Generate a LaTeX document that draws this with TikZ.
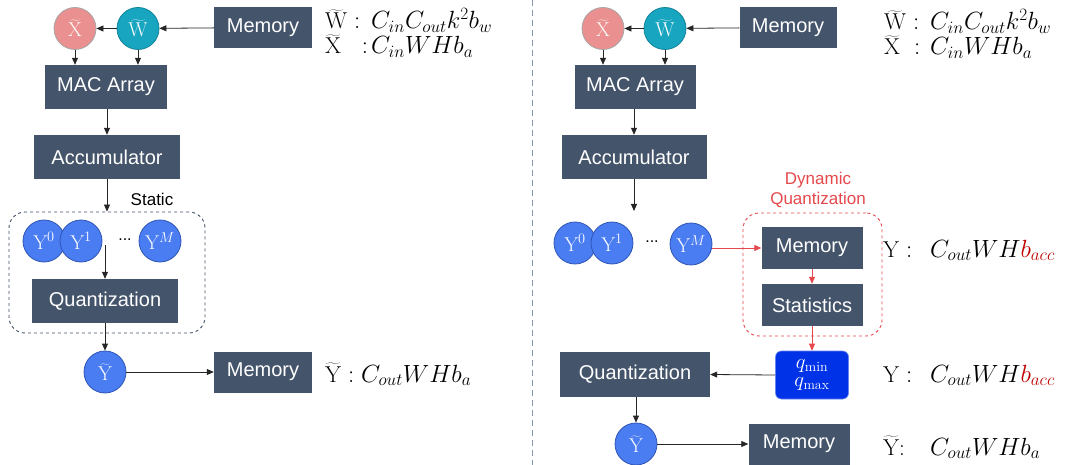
\documentclass[tikz,border=0pt]{standalone}
\usepackage{fontspec}
\newfontfamily\arial{Liberation Sans}
\usetikzlibrary{arrows.meta}
\definecolor{boxc}{HTML}{44546A}
\definecolor{ycirc}{HTML}{4A7CF2}
\definecolor{ybord}{HTML}{2F55B5}
\definecolor{tealc}{HTML}{17A5BF}
\definecolor{salmon}{HTML}{EA9090}
\definecolor{qblue}{HTML}{0033E8}
\definecolor{dynred}{HTML}{E5484D}
\definecolor{accred}{HTML}{C00000}
\definecolor{divc}{HTML}{8497B0}
\tikzset{
  blk/.style={fill=boxc, text=white, font=\arial\fontsize{20}{24}\selectfont, inner sep=0pt},
  ycir/.style={circle, fill=ycirc, draw=ybord, line width=0.8pt, minimum size=42pt, inner sep=0pt, text=white, font=\fontsize{20}{23}\selectfont},
  arr/.style={draw=black!85, line width=0.8pt, -{Triangle[length=7pt,width=6pt]}},
  rarr/.style={draw=dynred, line width=0.8pt, -{Triangle[length=7pt,width=6pt]}},
  mtxt/.style={anchor=base west, inner sep=0pt, font=\fontsize{23}{26}\selectfont},
}
\begin{document}
\begin{tikzpicture}[x=1pt,y=-1pt]
\useasboundingbox[fill=white] (0,0) rectangle (1065,465);
% divider
\draw[divc, line width=0.9pt, dash pattern=on 6pt off 4pt] (532,0) -- (532,465);

% ================= LEFT =================
\node[ycir, fill=salmon, draw=gray!70] (lx) at (75,28.5) {$\widetilde{\mathrm{X}}$};
\node[ycir, fill=tealc, draw=tealc!80!black] (lw) at (138,28.5) {$\widetilde{\mathrm{W}}$};
\node[blk, minimum width=98pt, minimum height=41pt] (lmem1) at (263,27.5) {Memory};
\node[blk, minimum width=122pt, minimum height=44pt] (lmac) at (106,87) {MAC Array};
\node[blk, minimum width=146pt, minimum height=44pt] (lacc) at (107,157) {Accumulator};
\node[draw=boxc, dashed, line width=0.9pt, rounded corners=16pt, minimum width=196pt, minimum height=121pt] (lsbox) at (107,272.5) {};
\node[font=\arial\fontsize{17}{20}\selectfont, inner sep=0pt] (lstatic) at (152,199) {Static};
\node[ycir] (ly0) at (44,241) {$\mathrm{Y}^0$};
\node[ycir] (ly1) at (81,241) {$\mathrm{Y}^1$};
\node[inner sep=0pt, font=\arial\fontsize{16}{18}\selectfont] (ldots) at (125,240) {...};
\node[ycir] (lym) at (160,241) {$\mathrm{Y}^M$};
\coordinate (lys) at (105,245);
\node[blk, minimum width=146pt, minimum height=44pt] (lquant) at (105,301) {Quantization};
\node[ycir] (lyt) at (105,372) {$\widetilde{\mathrm{Y}}$};
\node[blk, minimum width=98pt, minimum height=41pt] (lmem2) at (263,372) {Memory};

\draw[arr] (lmem1) -- (lw);
\draw[arr] (lw) -- (lx);
\draw[arr] (lx.south) -- (lx.south |- lmac.north);
\draw[arr] (lw.south) -- (lw.south |- lmac.north);
\draw[arr] (lmac.south -| lacc) -- (lacc.north);
\draw[arr] (lacc.south) -- (lsbox.north);
\draw[arr] (lys) -- (lquant.north);
\draw[arr] (lquant.south) -- (lyt.north);
\draw[arr] (lyt) -- (lmem2);

\node[mtxt] (lt1a) at (325,29) {$\widetilde{\mathrm{W}}:$};
\node[mtxt] (lt1b) at (371,29) {$C_{in}C_{out}k^2b_w$};
\node[mtxt] (lt2a) at (325,54) {$\widetilde{\mathrm{X}}\ \ :$};
\node[mtxt] (lt2b) at (371,54) {$C_{in}WHb_a$};
\node[mtxt] (lt3) at (325,382) {$\widetilde{\mathrm{Y}}:C_{out}WHb_a$};

% ================= RIGHT =================
\node[ycir, fill=salmon, draw=gray!70] (rx) at (603,28.5) {$\widetilde{\mathrm{X}}$};
\node[ycir, fill=tealc, draw=tealc!80!black] (rw) at (665,28.5) {$\widetilde{\mathrm{W}}$};
\node[blk, minimum width=97pt, minimum height=41pt] (rmem1) at (788,27.5) {Memory};
\node[blk, minimum width=121pt, minimum height=44pt] (rmac) at (635,87) {MAC Array};
\node[blk, minimum width=145pt, minimum height=44pt] (racc) at (634,157) {Accumulator};
\coordinate (raccend) at (634,211);
\node[ycir] (ry0) at (575,243) {$\mathrm{Y}^0$};
\node[ycir] (ry1) at (612,243) {$\mathrm{Y}^1$};
\node[inner sep=0pt, font=\arial\fontsize{16}{18}\selectfont] (rdots) at (652,242) {...};
\node[ycir] (rym) at (691,244) {$\mathrm{Y}^M$};
\node[draw=dynred, dashed, line width=0.9pt, rounded corners=16pt, minimum width=139pt, minimum height=123pt] (rdbox) at (812.5,274.5) {};
\node[text=dynred, font=\arial\fontsize{17}{20}\selectfont, align=center, inner sep=0pt] (rdyn) at (818,190) {Dynamic\\Quantization};
\node[blk, minimum width=101pt, minimum height=42pt] (rmem2) at (812,248) {Memory};
\node[blk, minimum width=101pt, minimum height=42pt] (rstat) at (812,305) {Statistics};
\node[fill=qblue, draw=qblue!60!white, line width=0.6pt, rounded corners=6pt, minimum width=73pt, minimum height=48pt, inner sep=0pt, text=white, align=center, font=\fontsize{20}{22}\selectfont] (rq) at (812,375) {$q_{\mathrm{min}}$\\[-4pt]$q_{\mathrm{max}}$};
\node[blk, minimum width=150pt, minimum height=45pt] (rquant) at (635,374.5) {Quantization};
\node[ycir] (ryt) at (636,444) {$\widetilde{\mathrm{Y}}$};
\node[blk, minimum width=101pt, minimum height=41pt] (rmem3) at (799,444) {Memory};

\draw[arr] (rmem1) -- (rw);
\draw[arr] (rw) -- (rx);
\draw[arr] (rx.south) -- (rx.south |- rmac.north);
\draw[arr] (rw.south) -- (rw.south |- rmac.north);
\draw[arr] (rmac.south -| racc) -- (racc.north);
\draw[arr] (racc.south) -- (raccend);
\draw[rarr] (rym.east |- rmem2) -- (rmem2.west);
\draw[rarr] (rmem2.south) -- (rstat.north);
\draw[rarr] (rstat.south) -- (rq.north);
\draw[arr] (rq.west) -- (rquant.east);
\draw[arr] (rquant.south -| ryt) -- (ryt.north);
\draw[arr] (ryt) -- (rmem3);

\node[mtxt] (rt1a) at (884,30) {$\widetilde{\mathrm{W}}:$};
\node[mtxt] (rt1b) at (930,30) {$C_{in}C_{out}k^2b_w$};
\node[mtxt] (rt2a) at (884,55) {$\widetilde{\mathrm{X}}\ :$};
\node[mtxt] (rt2b) at (930,55) {$C_{in}WHb_a$};
\node[mtxt] (rt3a) at (883,257) {$\mathrm{Y}:$};
\node[mtxt] (rt3b) at (930,257) {$C_{out}WH\textcolor{accred}{b_{acc}}$};
\node[mtxt] (rt4a) at (883,382) {$\mathrm{Y}:$};
\node[mtxt] (rt4b) at (930,382) {$C_{out}WH\textcolor{accred}{b_{acc}}$};
\node[mtxt] (rt5a) at (883,455) {$\widetilde{\mathrm{Y}}$:};
\node[mtxt] (rt5b) at (930,455) {$C_{out}WHb_a$};
\end{tikzpicture}
\end{document}
